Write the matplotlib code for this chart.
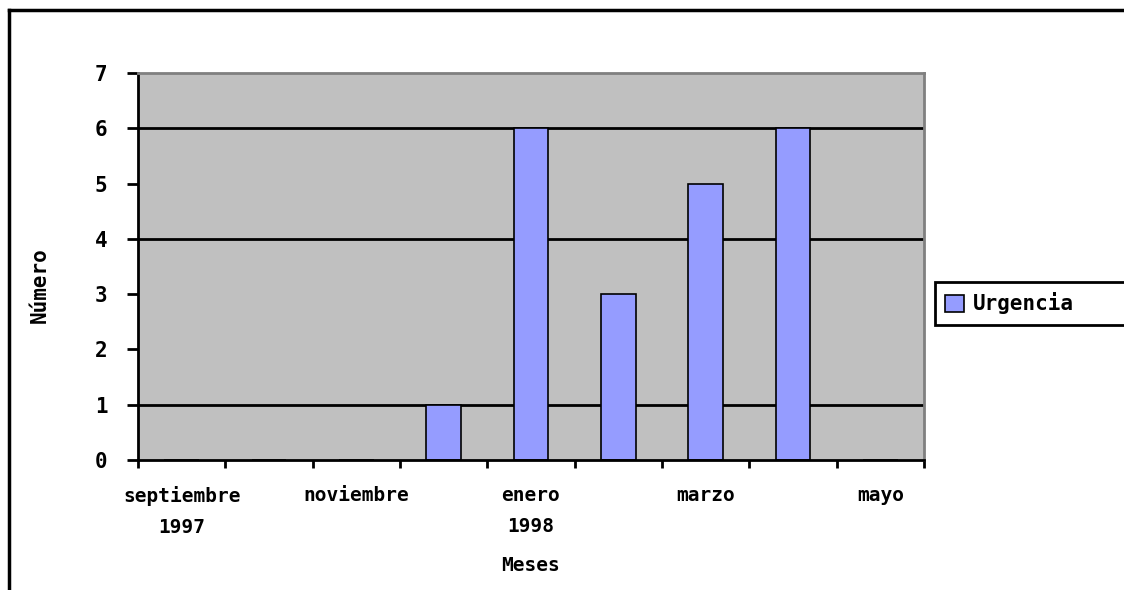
import matplotlib.pyplot as plt
from matplotlib.lines import Line2D

# datos
meses = ["septiembre\n1997", "octubre", "noviembre", "diciembre", "enero\n1998",
         "febrero", "marzo", "abril", "mayo"]
urgencia = [0, 0, 0, 1, 6, 3, 5, 6, 0]
lineas_guia = [1, 4, 6]
etiquetas_y = [0, 1, 2, 3, 4, 5, 6, 7]

plt.rcParams['font.family'] = ['DejaVu Sans Mono']
plt.rcParams['font.weight'] = 'bold'

fig = plt.figure(figsize=(11.24, 5.9), dpi=100)
ax = fig.add_axes([138 / 1124, 1 - 460 / 590, 786 / 1124, 387 / 590])
ax.set_facecolor('#C0C0C0')

x = list(range(len(meses)))
for v in lineas_guia:
    ax.axhline(v, color='black', lw=2, zorder=1)
ax.bar(x, urgencia, width=0.4, color='#959CFF', edgecolor='black', lw=1.2,
       zorder=2, label='Urgencia')

ax.set_xlim(-0.5, len(meses) - 0.5)
ax.set_ylim(0, 7)
ax.set_yticks(etiquetas_y)
ax.tick_params(axis='y', length=8, width=2, pad=14, labelsize=15)

# marcas entre categorias, etiquetas cada dos meses
ax.set_xticks([i - 0.5 for i in range(len(meses) + 1)])
ax.set_xticklabels([])
ax.set_xticks(x[::2], minor=True)
ax.set_xticklabels(meses[::2], minor=True, linespacing=1.75)
ax.tick_params(axis='x', which='major', length=6, width=2)
ax.tick_params(axis='x', which='minor', length=0, pad=19, labelsize=14)

for s in ['top', 'right']:
    ax.spines[s].set_color('#808080')
    ax.spines[s].set_linewidth(2)
for s in ['left', 'bottom']:
    ax.spines[s].set_color('black')
    ax.spines[s].set_linewidth(2)

ax.set_xlabel("Meses", fontsize=14, fontweight='bold', labelpad=14)
fig.text(40 / 1124, 1 - 285 / 590, "Número", rotation=90, fontsize=15,
         fontweight='bold', ha='center', va='center')

# la leyenda se sale por la derecha, como en el original
leg = fig.legend(loc='center left',
                 bbox_to_anchor=(935 / 1124, 1 - 326 / 590, 200 / 1124, 45 / 590),
                 mode='expand', fancybox=False, framealpha=1, edgecolor='black',
                 fontsize=15, handlelength=0.9, handleheight=0.9,
                 handletextpad=0.4, borderpad=0.5, borderaxespad=0)
leg.get_frame().set_linewidth(2)

# marco exterior
fig.add_artist(Line2D([9 / 1124, 9 / 1124], [0, 1 - 10 / 590], color='black',
                      lw=2.5, transform=fig.transFigure))
fig.add_artist(Line2D([9 / 1124, 1], [1 - 10 / 590, 1 - 10 / 590], color='black',
                      lw=2.5, transform=fig.transFigure))

fig.savefig("out.png", dpi=100)
